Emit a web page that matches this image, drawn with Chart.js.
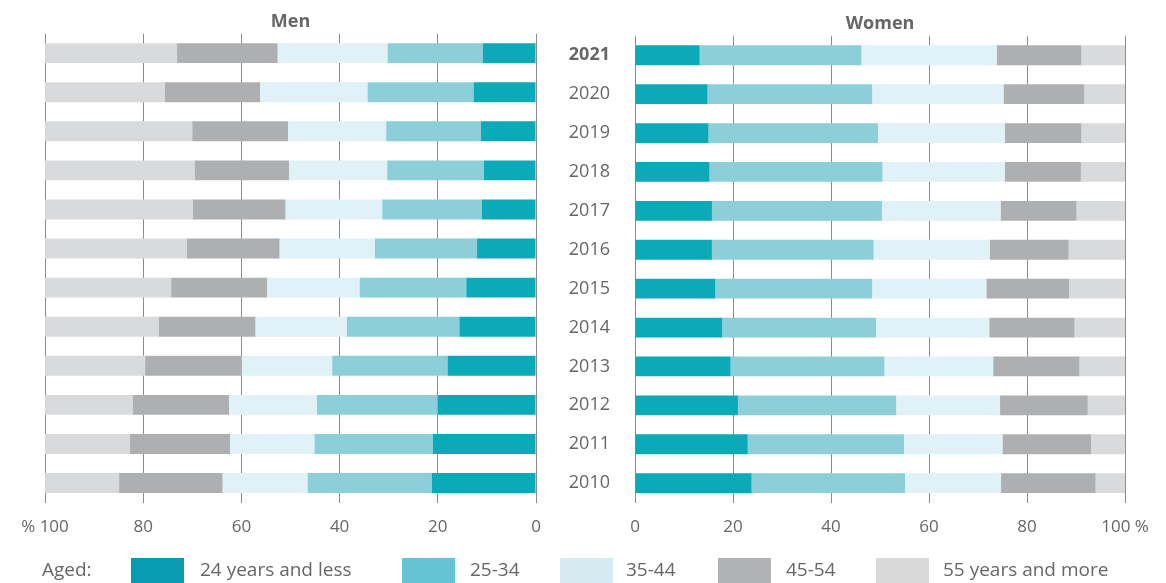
<!DOCTYPE html>
<html lang="en">
<head>
  <meta charset="UTF-8" />
  <title>Age structure, men and women</title>
  <script src="https://cdn.jsdelivr.net/npm/chart.js"></script>
  <style>
    body {
      margin: 0;
      background: #fff;
      font-family: "Open Sans", "Noto Sans", sans-serif;
      color: #666;
    }
    .wrap {
      position: relative;
      width: 1166px;
      height: 583px;
      overflow: hidden;
    }
    #menBox { position: absolute; left: 0; top: 0; width: 580px; height: 559px; }
    #womenBox { position: absolute; left: 540px; top: 0; width: 626px; height: 559px; }
    .legend {
      position: absolute;
      top: 556px;
      font-size: 19px;
      line-height: 26px;
      color: #666;
      white-space: nowrap;
    }
    .swatch {
      position: absolute;
      top: 558px;
      width: 53px;
      height: 28px;
    }
  </style>
</head>
<body>
<div class="wrap">
  <div id="menBox"><canvas id="menChart"></canvas></div>
  <div id="womenBox"><canvas id="womenChart"></canvas></div>
  <div id="legend"></div>
</div>

<script>
// years, top row first
const years = ['2021', '2020', '2019', '2018', '2017', '2016', '2015', '2014', '2013', '2012', '2011', '2010'];

const ageGroups = ['24 years and less', '25-34', '35-44', '45-54', '55 years and more'];
const barColors = ['#0ca9b9', '#8ccfd9', '#e0f1f8', '#aeafb1', '#d9dadb'];
const legendColors = ['#0a9bb3', '#66c3d5', '#d4ebf1', '#b1b2b4', '#d9d9d9'];

// Men (%)
const menU24   = [10.8, 12.7, 11.2, 10.6, 11.0, 12.0, 14.2, 15.6, 18.0, 20.0, 21.0, 21.2];
const men2534  = [19.4, 21.6, 19.3, 19.7, 20.3, 20.8, 21.7, 22.9, 23.5, 24.6, 24.1, 25.3];
const men3544  = [22.4, 21.9, 20.0, 20.0, 19.7, 19.4, 18.8, 18.6, 18.4, 17.9, 17.2, 17.3];
const men4554  = [20.5, 19.4, 19.5, 19.2, 18.9, 18.9, 19.6, 19.7, 19.7, 19.6, 20.4, 21.1];
const men55    = [26.9, 24.4, 30.0, 30.5, 30.1, 28.9, 25.7, 23.2, 20.4, 17.9, 17.3, 15.1];

// Women (%)
const womenU24  = [13.2, 14.8, 15.0, 15.2, 15.7, 15.7, 16.4, 17.8, 19.5, 21.0, 23.0, 23.8];
const women2534 = [33.0, 33.6, 34.6, 35.3, 34.7, 33.0, 32.0, 31.4, 31.4, 32.3, 31.9, 31.3];
const women3544 = [27.6, 26.8, 25.9, 25.0, 24.2, 23.7, 23.3, 23.1, 22.2, 21.2, 20.1, 19.6];
const women4554 = [17.3, 16.5, 15.6, 15.5, 15.5, 16.1, 16.9, 17.4, 17.6, 17.9, 18.1, 19.3];
const women55   = [8.9, 8.3, 8.9, 9.0, 9.9, 11.5, 11.4, 10.3, 9.3, 7.6, 6.9, 6.0];

const xTicks = [0, 20, 40, 60, 80, 100];

const FONT = '"Open Sans", "Noto Sans", sans-serif';
const TEXT = '#666';
const GRID = '#8c8c8c';

function makeSets(series) {
  return series.map((d, i) => ({
    label: ageGroups[i],
    data: d,
    backgroundColor: barColors[i],
    borderWidth: 0,
    barPercentage: 0.51,
    categoryPercentage: 1
  }));
}

function xScale(reverse, fmt) {
  return {
    type: 'linear',
    stacked: true,
    min: 0,
    max: 100,
    reverse: reverse,
    afterBuildTicks: s => { s.ticks = xTicks.map(v => ({ value: v })); },
    grid: { color: GRID, lineWidth: 1, drawTicks: false },
    border: { display: false },
    ticks: {
      color: TEXT,
      padding: 14,
      font: { family: FONT, size: 17 },
      callback: fmt
    }
  };
}

const common = {
  indexAxis: 'y',
  responsive: true,
  maintainAspectRatio: false,
  animation: false,
  plugins: { legend: { display: false }, tooltip: { enabled: false } }
};

// title spans only the bar area so it centres over it
function titleOpts(text) {
  return {
    display: true, text: text, color: TEXT, fullSize: false,
    font: { family: FONT, size: 18, weight: 'bold' },
    padding: { top: 11, bottom: 1 }
  };
}

new Chart(document.getElementById('menChart'), {
  type: 'bar',
  data: { labels: years, datasets: makeSets([menU24, men2534, men3544, men4554, men55]) },
  options: Object.assign({}, common, {
    layout: { padding: { left: 45, right: 44, top: 0, bottom: 8 } },
    plugins: Object.assign({}, common.plugins, { title: titleOpts('Men') }),
    scales: {
      x: xScale(true, v => v === 100 ? '% 100' : v),
      y: { stacked: true, display: false, grid: { display: false } }
    }
  })
});

new Chart(document.getElementById('womenChart'), {
  type: 'bar',
  data: { labels: years, datasets: makeSets([womenU24, women2534, women3544, women4554, women55]) },
  options: Object.assign({}, common, {
    layout: { padding: { left: 0, right: 41, top: 0, bottom: 8 } },
    plugins: Object.assign({}, common.plugins, { title: titleOpts('Women') }),
    scales: {
      x: xScale(false, v => v === 100 ? '100 %' : v),
      y: {
        stacked: true,
        grid: { display: false, drawTicks: false },
        border: { display: false },
        afterFit: s => { s.width = 95; },
        ticks: {
          color: TEXT,
          padding: 25,
          font: c => ({ family: FONT, size: 18, weight: c.index === 0 ? 'bold' : 'normal' })
        }
      }
    }
  })
});

// legend row
const legend = document.getElementById('legend');
const legendPos = [[131, 200], [402, 470], [560, 626], [718, 786], [876, 943]];
const aged = document.createElement('div');
aged.className = 'legend';
aged.style.left = '42px';
aged.textContent = 'Aged:';
legend.appendChild(aged);
ageGroups.forEach((g, i) => {
  const sw = document.createElement('div');
  sw.className = 'swatch';
  sw.style.left = legendPos[i][0] + 'px';
  sw.style.background = legendColors[i];
  legend.appendChild(sw);
  const t = document.createElement('div');
  t.className = 'legend';
  t.style.left = legendPos[i][1] + 'px';
  t.textContent = g;
  legend.appendChild(t);
});
</script>
</body>
</html>
